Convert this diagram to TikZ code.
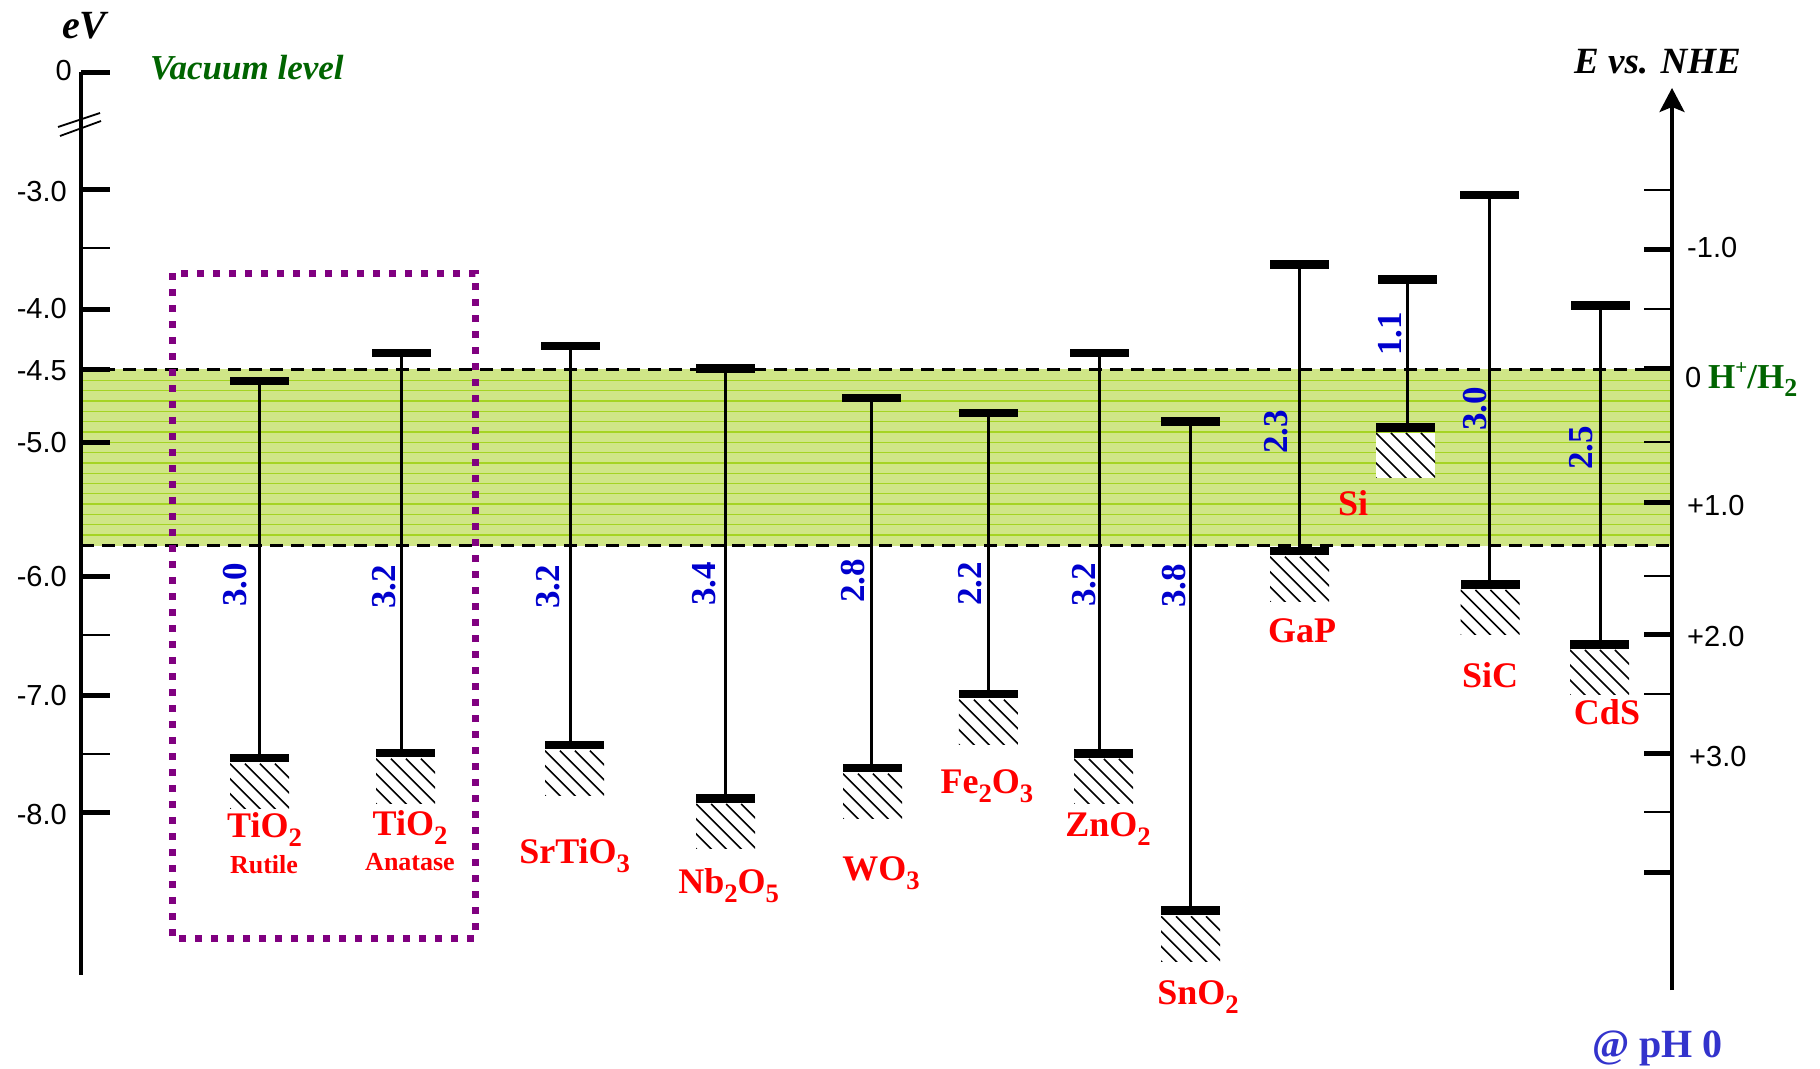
\documentclass[tikz,border=0pt]{standalone}
\usepackage{fontspec}
\usepackage{graphicx}
\setmainfont{Liberation Serif}
\newfontfamily\arialfont{Liberation Sans}
\usetikzlibrary{arrows.meta}
\definecolor{gapblue}{RGB}{0,0,205}
\definecolor{matred}{RGB}{255,0,0}
\definecolor{vacgreen}{RGB}{0,100,0}
\definecolor{phblue}{RGB}{51,51,204}
\definecolor{bandfill}{RGB}{208,230,135}
\definecolor{bandline}{RGB}{165,212,35}
\definecolor{boxpurple}{RGB}{128,0,128}
\newcommand\subs[1]{\raisebox{-0.25em}{\scalebox{0.74}{#1}}}
\newcommand\sups[1]{\raisebox{0.38em}{\scalebox{0.6}{#1}}}
% name, cb x, cb y, vb x, vb y
\newcommand\semicond[5]{%
  \node[bandbar] (#1cb) at (#2,#3) {};
  \node[bandbar] (#1vb) at (#4,#5) {};
  \node[hatchbox] (#1h) at ([yshift=-1pt]#1vb.south) {};
  \draw[gapline] (#1cb.center) -- (#1cb.center |- #1vb.center);
}
\begin{document}
\begin{tikzpicture}[x=1pt,y=-1pt,
  bandbar/.style={fill=black, inner sep=0pt, minimum width=59pt, minimum height=8.5pt},
  gapline/.style={line width=3pt},
  hatchbox/.style={fill=white, inner sep=0pt, minimum width=59pt, minimum height=45pt, anchor=north,
    path picture={\foreach \k in {-4,...,4}{\draw[line width=1.6pt] ([xshift=\k*15pt]path picture bounding box.north west) -- ++(60pt,-60pt);}}},
  gaplabel/.style={rotate=90, text=gapblue, font=\fontsize{35}{40}\selectfont\bfseries, inner sep=0pt},
  matlabel/.style={text=matred, font=\fontsize{36}{40}\selectfont\bfseries, anchor=base, inner sep=0pt},
  phaselabel/.style={text=matred, font=\fontsize{26}{30}\selectfont\bfseries, anchor=base, inner sep=0pt},
  axlabel/.style={font=\arialfont\fontsize{29}{32}\selectfont, inner sep=0pt},
  axisline/.style={line width=3.2pt},
  majortick/.style={line width=5pt},
  minortick/.style={line width=2.5pt},
  reflevel/.style={line width=3pt, dash pattern=on 13pt off 8pt},
]
\useasboundingbox (0,0) rectangle (1820,1068);

% water redox window
\fill[bandfill] (81,369) rectangle (1672,545.5);
\foreach \yy in {380.5,390.8,...,541}{\draw[bandline, line width=1.3pt] (81,\yy) -- (1672,\yy);}
\coordinate (upL) at (81,369);
\coordinate (upR) at (1672,369);
\coordinate (loL) at (81,545.5);
\coordinate (loR) at (1672,545.5);
\draw[reflevel] (upL) -- (upR);
\draw[reflevel] (loL) -- (loR);

% left axis
\coordinate (laxtop) at (81,72);
\coordinate (laxbot) at (81,975);
\draw[axisline] (laxtop) -- (laxbot);
\foreach \yy in {72,189,309,369,442,576,695,812}{\draw[majortick] (81,\yy) -- (110,\yy);}
\foreach \yy in {248,635,754}{\draw[minortick] (81,\yy) -- (110,\yy);}
\draw[line width=1.8pt] (58,127) -- (100,113);
\draw[line width=1.8pt] (60,136) -- (101,121);
\node[axlabel, anchor=east] (l0) at (72,71) {0};
\node[axlabel, anchor=east] (l3) at (67,192) {-3.0};
\node[axlabel, anchor=east] (l4) at (67,309) {-4.0};
\node[axlabel, anchor=east] (l45) at (67,371) {-4.5};
\node[axlabel, anchor=east] (l5) at (67,443) {-5.0};
\node[axlabel, anchor=east] (l6) at (67,577) {-6.0};
\node[axlabel, anchor=east] (l7) at (67,696) {-7.0};
\node[axlabel, anchor=east] (l8) at (67,815) {-8.0};
\node[font=\fontsize{40}{44}\selectfont\bfseries\itshape, anchor=base west, inner sep=0pt] (ev) at (62,38) {eV};
\node[text=vacgreen, font=\fontsize{35}{40}\selectfont\bfseries\itshape, anchor=base west, inner sep=0pt] (vac) at (150,79) {Vacuum level};

% right axis
\coordinate (raxbot) at (1672,990);
\coordinate (raxtop) at (1672,88);
\draw[axisline, -{Stealth[length=24pt,width=25pt,inset=5pt]}] (raxbot) -- (raxtop);
\foreach \yy in {190,309,442,576,694,812}{\draw[minortick] (1644,\yy) -- (1672,\yy);}
\foreach \yy in {249,368,502,634,753,872}{\draw[majortick] (1644,\yy) -- (1672,\yy);}
\node[axlabel, anchor=west] (rm1) at (1687,248) {-1.0};
\node[axlabel, anchor=west] (r0) at (1685,377.5) {0};
\node[axlabel, anchor=west] (rp1) at (1687,506) {+1.0};
\node[axlabel, anchor=west] (rp2) at (1687,636.5) {+2.0};
\node[axlabel, anchor=west] (rp3) at (1689,757) {+3.0};
\node[text=vacgreen, font=\fontsize{35}{40}\selectfont\bfseries, anchor=base west, inner sep=0pt] (hh) at (1708,388) {H\sups{+}/H\subs{2}};
\node[font=\fontsize{37}{40}\selectfont\bfseries\itshape, anchor=base west, inner sep=0pt] (nhe) at (1574,73) {E vs. NHE};
\node[text=phblue, font=\fontsize{40}{44}\selectfont\bfseries, anchor=base west, inner sep=0pt] (ph) at (1592,1057) {@ pH 0};

% TiO2 box
\draw[boxpurple, line width=7pt, dash pattern=on 7pt off 9pt] (172,273) rectangle (475,938);

% semiconductors
\semicond{R}{259}{381}{259.5}{758}
\semicond{A}{401.7}{353}{405.5}{753}
\semicond{S}{570.5}{346}{574.5}{745}
\semicond{N}{725}{368.3}{725.6}{798.3}
\semicond{W}{871}{398}{872.5}{768}
\semicond{F}{988}{413}{988.4}{694}
\semicond{Z}{1099.5}{353}{1103.5}{753.3}
\semicond{Sn}{1190}{421.6}{1190.5}{910.6}
\semicond{G}{1299}{264.3}{1299.5}{551}
\semicond{Si}{1407}{279.3}{1405.5}{427.3}
\semicond{SiC}{1489}{195}{1490}{584.3}
\semicond{Cd}{1600}{305.3}{1599.5}{644.3}

% band gaps
\node[gaplabel] (gR) at (235.5,585) {3.0};
\node[gaplabel] (gA) at (384.5,587) {3.2};
\node[gaplabel] (gS) at (548,587) {3.2};
\node[gaplabel] (gN) at (704.5,584) {3.4};
\node[gaplabel] (gW) at (853.5,581) {2.8};
\node[gaplabel] (gF) at (970.5,584) {2.2};
\node[gaplabel] (gZ) at (1084.5,585) {3.2};
\node[gaplabel] (gSn) at (1174,586) {3.8};
\node[gaplabel] (gG) at (1276,432) {2.3};
\node[gaplabel] (gSi) at (1390,334) {1.1};
\node[gaplabel] (gSiC) at (1475,409) {3.0};
\node[gaplabel] (gCd) at (1581,448) {2.5};

% material names
\node[matlabel] (nR) at (264.5,837) {TiO\subs{2}};
\node[phaselabel] (pR) at (264,873) {Rutile};
\node[matlabel] (nA) at (410,835) {TiO\subs{2}};
\node[phaselabel] (pA) at (410,870) {Anatase};
\node[matlabel] (nS) at (574.7,863) {SrTiO\subs{3}};
\node[matlabel] (nN) at (728.7,893) {Nb\subs{2}O\subs{5}};
\node[matlabel] (nW) at (881,880) {WO\subs{3}};
\node[matlabel] (nF) at (987,793) {Fe\subs{2}O\subs{3}};
\node[matlabel] (nZ) at (1108,836) {ZnO\subs{2}};
\node[matlabel] (nSn) at (1198,1004.5) {SnO\subs{2}};
\node[matlabel] (nG) at (1302,642.7) {GaP};
\node[matlabel] (nSi) at (1353,515) {Si};
\node[matlabel] (nSiC) at (1490,687.7) {SiC};
\node[matlabel] (nCd) at (1607,724) {CdS};
\end{tikzpicture}
\end{document}
